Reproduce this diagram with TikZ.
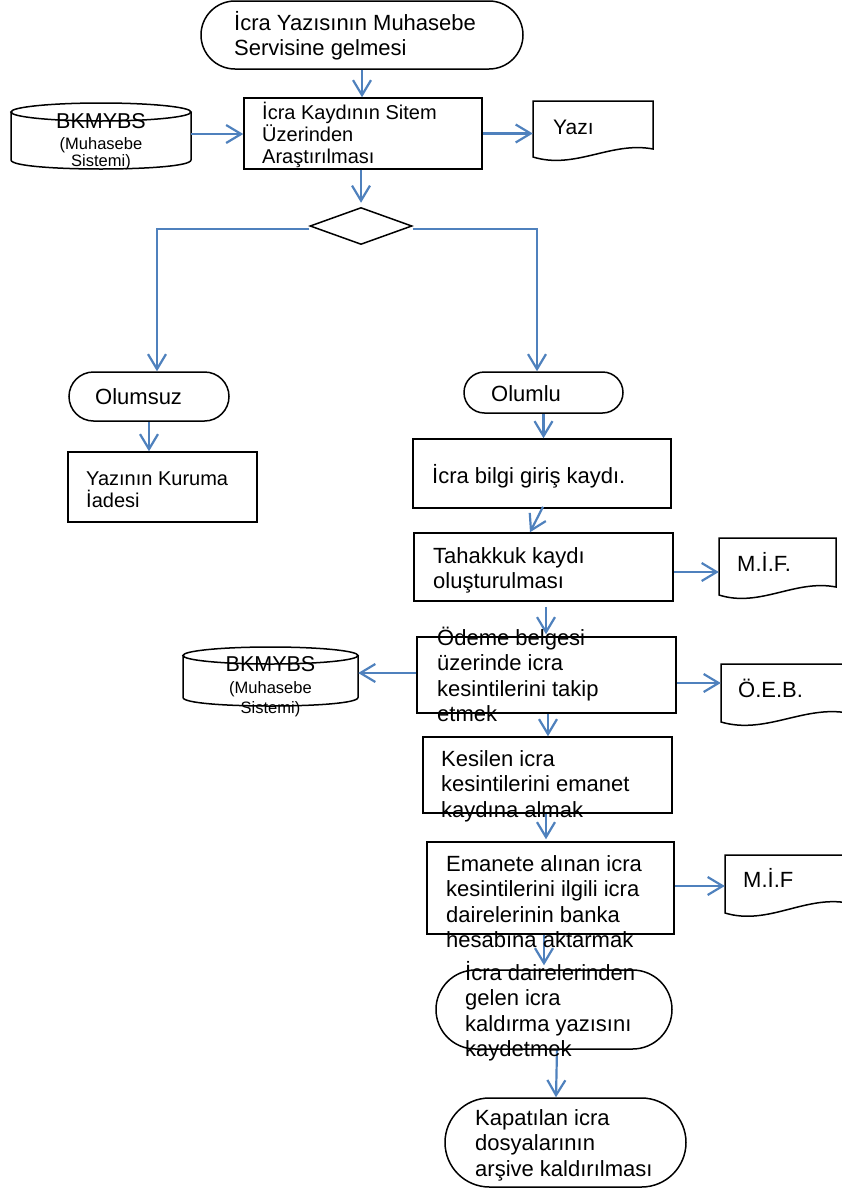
\documentclass[tikz,border=0pt]{standalone}
\usepackage{fontspec}
\setmainfont{Liberation Sans}
\usetikzlibrary{arrows.meta,shapes.geometric,shapes.misc}
\definecolor{arrblue}{HTML}{4F81BD}
\newcommand\mystrut{\rule{0pt}{24pt}}
\newcommand\fsz[2]{\fontsize{#1}{#2}\selectfont}
% cylinder: name, cx, top ellipse centre y, bottom ellipse centre y, rx, ry
\newcommand\dbshape[6]{%
  \node[inner sep=0pt, minimum width={2*#5}, minimum height={#4-#3+2*#6}] (#1) at (#2,{(#3+#4)/2}) {};
  \draw[shp] (#2,#3) ellipse [x radius=#5, y radius=#6];
  \draw[shp] ({#2-#5},#3) -- ({#2-#5},#4) .. controls ({#2-#5},{#4+4/3*#6}) and ({#2+#5},{#4+4/3*#6}) .. ({#2+#5},#4) -- ({#2+#5},#3);
}
% document: name, x0, top y, x1, bottom-left y, bottom-right y
\newcommand\docshape[6]{%
  \node[inner sep=0pt, minimum width={#4-#2}, minimum height={#5-#3}] (#1) at ({(#2+#4)/2},{(#3+#5)/2}) {};
  \draw[shp] (#2,#5) -- (#2,#3) -- (#4,#3) -- (#4,#6) .. controls ({#2+0.65*(#4-#2)},{#6-8}) and ({#2+0.35*(#4-#2)},{#5+13}) .. (#2,#5) -- cycle;
}
\begin{document}
\begin{tikzpicture}[x=1pt,y=-1pt,
  shp/.style={draw=black, line width=1.5pt},
  term/.style={shp, rounded rectangle, inner sep=0pt},
  proc/.style={shp, rectangle, inner sep=0pt},
  decision/.style={shp, diamond, inner sep=0pt},
  flow/.style={draw=arrblue, line width=2.2pt, -{Straight Barb[length=15pt,width=18pt]}},
  txt/.style={anchor=north west, inner sep=0pt, align=left, font=\fsz{22}{25.4}},
  txts/.style={anchor=north west, inner sep=0pt, align=left, font=\fsz{20}{22}},
  dbt/.style={anchor=base, inner sep=0pt},
]
\useasboundingbox (0,0) rectangle (842,1189);
\clip (0,0) rectangle (842,1189);

% shapes
\node[term, minimum width=322pt, minimum height=68pt] (start) at (362,35) {};
\node[proc, minimum width=238pt, minimum height=71pt] (box1) at (363,133.5) {};
\dbshape{db1}{101}{112}{160}{90}{9}
\docshape{yazi}{533}{101}{653}{157}{149}
\node[decision, minimum width=102pt, minimum height=37pt] (dec) at (361,226) {};
\node[term, minimum width=160pt, minimum height=49pt] (olumsuz) at (149,396.5) {};
\node[proc, minimum width=189pt, minimum height=70pt] (iade) at (162.5,487) {};
\node[term, minimum width=159pt, minimum height=41pt] (olumlu) at (543.5,392.5) {};
\node[proc, minimum width=258pt, minimum height=69pt] (bilgi) at (542,473.5) {};
\node[proc, minimum width=259pt, minimum height=68pt] (tahakkuk) at (543.5,567) {};
\docshape{mif1}{719}{538}{836}{595}{587}
\node[proc, minimum width=259pt, minimum height=76pt] (odeme) at (546.5,675) {};
\dbshape{db2}{270.5}{655.5}{697.5}{87.5}{8.5}
\docshape{oeb}{721}{664}{848}{722}{713}
\node[proc, minimum width=249pt, minimum height=76pt] (kesilen) at (547.5,775) {};
\node[proc, minimum width=247pt, minimum height=92pt] (emanete) at (550.5,888) {};
\docshape{mif2}{725}{855}{848}{913}{903}
\node[term, minimum width=236pt, minimum height=79pt] (daire) at (554,1009.5) {};
\node[term, minimum width=241pt, minimum height=89pt] (kapat) at (565.5,1142.5) {};

% connectors
\draw[flow] (start.south) -- (start.south |- box1.north);
\draw[flow] ([yshift=2pt]db1.east) -- ([yshift=2pt]db1.east -| box1.west);
\draw[flow] (box1.east) -- (box1.east -| yazi.west);
\draw[flow] (box1.south -| dec.north) -- ([yshift=4pt]dec.north);
\draw[flow] ([yshift=-3pt]dec.west) -| ([xshift=8pt]olumsuz.north);
\draw[flow] ([yshift=-3pt]dec.east) -| ([xshift=-6.5pt]olumlu.north);
\draw[flow] (olumsuz.south) -- (olumsuz.south |- iade.north);
\draw[flow] (olumlu.south) -- (olumlu.south |- bilgi.north);
\draw[flow] ([shift={(1,-2)}]bilgi.south) -- ([xshift=-13.5pt]tahakkuk.north);
\draw[flow] ([shift={(2.5,5)}]tahakkuk.south) -- ([xshift=2.5pt,yshift=2pt]tahakkuk.south |- odeme.north);
\draw[flow] ([yshift=-5pt]tahakkuk.east) -- ([yshift=-5pt]tahakkuk.east -| mif1.west);
\draw[flow] ([yshift=2pt]odeme.west) -- ([yshift=2pt]odeme.west -| db2.east);
\draw[flow] ([yshift=-8pt]odeme.east) -- ([yshift=-8pt]odeme.east -| oeb.west);
\draw[flow] ([xshift=1.5pt]odeme.south) -- ([xshift=1.5pt]odeme.south |- kesilen.north);
\draw[flow] ([xshift=-1.5pt]kesilen.south) -- ([xshift=-1.5pt,yshift=2pt]kesilen.south |- emanete.north);
\draw[flow] ([yshift=2pt]emanete.east) -- ([yshift=2pt]emanete.east -| mif2.west);
\draw[flow] ([xshift=-6.5pt]emanete.south) -- ([xshift=-6.5pt,yshift=4pt]emanete.south |- daire.north);
\draw[flow] ([xshift=3pt]daire.south) -- ([xshift=-9.5pt]kapat.north);

% texts
\node[txt] (t-start) at (234,6) {\mystrut İcra Yazısının Muhasebe\\Servisine gelmesi};
\node[txts] (t-box1) at (262,95) {\mystrut İcra Kaydının Sitem\\Üzerinden\\Araştırılması};
\node[dbt, font=\fsz{21.5}{24}] (t-db1a) at (101,128) {BKMYBS};
\node[dbt, font=\fsz{16.5}{19}] (t-db1b) at (101,149) {(Muhasebe};
\node[dbt, font=\fsz{16.5}{19}] (t-db1c) at (101,166) {Sistemi)};
\node[txt, font=\fsz{21}{24}] (t-yazi) at (553,110) {\mystrut Yazı};
\node[txt] (t-olumsuz) at (95,380) {\mystrut Olumsuz};
\node[txts] (t-iade) at (86,461) {\mystrut Yazının Kuruma\\İadesi};
\node[txt] (t-olumlu) at (491,377) {\mystrut Olumlu};
\node[txt] (t-bilgi) at (432,459) {\mystrut İcra bilgi giriş kaydı.};
\node[txt] (t-tahakkuk) at (433,539) {\mystrut Tahakkuk kaydı\\oluşturulması};
\node[txt] (t-mif1) at (737,547) {\mystrut M.İ.F.};
\node[txt] (t-odeme) at (437,621) {\mystrut Ödeme belgesi\\üzerinde icra\\kesintilerini takip\\etmek};
\node[dbt, font=\fsz{21.5}{24}] (t-db2a) at (270.5,671) {BKMYBS};
\node[dbt, font=\fsz{16.5}{19}] (t-db2b) at (270.5,693) {(Muhasebe};
\node[dbt, font=\fsz{16.5}{19}] (t-db2c) at (270.5,713) {Sistemi)};
\node[txt] (t-oeb) at (738,673) {\mystrut Ö.E.B.};
\node[txt] (t-kesilen) at (441,742) {\mystrut Kesilen icra\\kesintilerini emanet\\kaydına almak};
\node[txt] (t-emanete) at (446,847) {\mystrut Emanete alınan icra\\kesintilerini ilgili icra\\dairelerinin banka\\hesabına aktarmak};
\node[txt] (t-mif2) at (743,863) {\mystrut M.İ.F};
\node[txt] (t-daire) at (465,956) {\mystrut İcra dairelerinden\\gelen icra\\kaldırma yazısını\\kaydetmek};
\node[txt] (t-kapat) at (475,1101) {\mystrut Kapatılan icra\\dosyalarının\\arşive kaldırılması};
\end{tikzpicture}
\end{document}
